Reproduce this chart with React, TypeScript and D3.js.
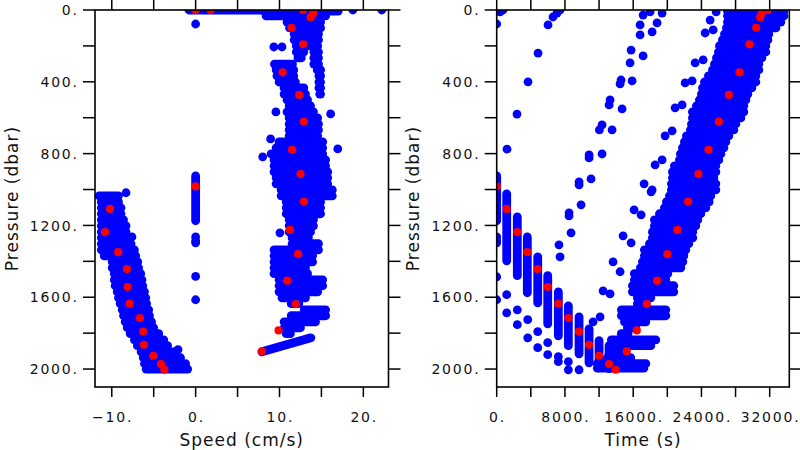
import React from 'react';
import * as d3 from 'd3';

// ---------- axis ticks ----------
const pressureTicks = [0, 200, 400, 600, 800, 1000, 1200, 1400, 1600, 1800, 2000];
const pressureLabels = [0, 400, 800, 1200, 1600, 2000];
const speedTicks = [-10, -5, 0, 5, 10, 15, 20];
const speedLabels = [-10, 0, 10, 20];
const timeTicks = [0, 4000, 8000, 12000, 16000, 20000, 24000, 28000, 32000];
const timeLabels = [0, 8000, 16000, 24000, 32000];

// ---------- speed panel (blue): dense runs of samples [pressure, speedFrom, speedTo] ----------
const speedRuns: number[][] = [
  [0, -0.8, 8.2],
  [6, 8.2, 17.0], [33, 8.4, 15.5], [67, 10.9, 14.9], [100, 11.2, 14.9],
  [134, 11.75, 14.65], [167, 11.75, 14.65], [200, 12.0, 14.55],
  [234, 12.0, 12.9], [234, 14.1, 14.65], [267, 12.2, 12.6], [267, 14.1, 14.65],
  [301, 9.4, 11.55], [301, 14.1, 14.65], [334, 9.6, 11.7], [334, 14.5, 14.9],
  [367, 9.7, 11.7], [367, 14.7, 14.9], [401, 9.95, 11.9], [401, 14.7, 14.9],
  [434, 10.55, 12.9], [434, 14.7, 14.9], [468, 10.55, 13.1], [468, 14.8, 14.9],
  [501, 10.9, 13.35], [534, 11.15, 13.7], [568, 10.9, 14.05], [601, 11.15, 14.55],
  [635, 11.15, 14.65], [668, 11.15, 14.65], [701, 11.15, 14.55], [735, 9.95, 15.15],
  [768, 9.6, 15.15], [802, 9.0, 15.15], [835, 9.35, 15.5], [868, 9.35, 15.5],
  [902, 9.35, 15.75], [935, 9.6, 15.75], [968, 9.6, 15.75], [1002, 10.2, 16.3],
  [1035, 10.2, 16.3], [1069, 10.8, 14.9], [1102, 10.8, 14.9], [1135, 10.8, 14.9],
  [1169, 11.15, 14.05], [1202, 11.15, 14.05], [1236, 11.15, 13.7], [1269, 11.5, 13.45],
  [1302, 11.5, 14.65], [1336, 9.35, 14.65], [1369, 9.35, 13.95], [1403, 9.35, 13.95],
  [1436, 9.35, 13.1], [1469, 9.35, 13.35], [1503, 9.95, 15.15], [1536, 9.95, 15.15],
  [1570, 9.95, 14.55], [1603, 10.3, 13.1], [1636, 11.4, 12.3], [1670, 12.95, 15.5],
  [1703, 11.4, 15.5], [1737, 10.55, 14.3], [1770, 10.55, 12.5], [1803, 10.8, 11.3],
  // descent branch
  [1035, -11.5, -9.2], [1069, -11.25, -9.2], [1102, -11.25, -8.9], [1135, -11.25, -8.9],
  [1169, -11.25, -8.6], [1202, -11.25, -8.3], [1236, -11.25, -8.3], [1269, -11.25, -7.95],
  [1302, -11.25, -7.7], [1336, -11.25, -7.3], [1369, -10.9, -7.15], [1403, -9.95, -6.9],
  [1436, -9.95, -6.8], [1469, -9.7, -6.55], [1503, -9.7, -6.4], [1536, -9.6, -6.3],
  [1570, -9.35, -6.1], [1603, -9.2, -5.95], [1636, -9.0, -5.85], [1670, -8.75, -5.6],
  [1703, -8.6, -5.5], [1737, -8.4, -5.25], [1770, -8.15, -5.0], [1803, -7.8, -4.4],
  [1837, -7.3, -3.8], [1870, -6.95, -3.35], [1904, -6.5, -2.4], [1937, -6.25, -1.8],
  [1970, -6.1, -1.2], [2000, -5.9, -0.95],
];
// slanted / vertical runs [speed1, pressure1, speed2, pressure2]
const speedSegs: number[][] = [
  [7.9, 1904, 13.74, 1826],
  [0, 924, 0, 1174],
];
// isolated samples [speed, pressure]
const speedDots: number[][] = [
  [0, 78], [0, 1264], [0, 1286], [0, 1297], [0, 1484], [0, 1614],
  [18.75, 0], [22.2, 0], [9.33, 206], [10.3, 206], [9.57, 568], [16.1, 579],
  [16.95, 774], [8.0, 818], [8.94, 718], [10.05, 1241], [-8.3, 1018], [-7.6, 1264], [-2.1, 1892],
];

// ---------- time panel (blue) ----------
const timeRuns: number[][] = [
  [6, 27050, 33665], [33, 27050, 33665], [67, 27050, 33310], [100, 26930, 32730],
  [134, 26700, 31900], [167, 26460, 31790], [200, 26110, 31550], [234, 25990, 31550],
  [267, 25760, 31085], [301, 25525, 30730], [334, 25290, 30730], [367, 24820, 30380],
  [401, 24350, 30380], [434, 24120, 29910], [468, 24000, 29440], [501, 23765, 29210],
  [534, 23415, 28970], [568, 22945, 28970], [601, 22945, 28620], [635, 22825, 28035],
  [668, 22710, 27800], [701, 22240, 27215], [735, 22005, 26860], [768, 21770, 26630],
  [802, 21535, 26275], [835, 21420, 26040], [868, 20830, 25690], [902, 20600, 25690],
  [935, 20600, 25455], [968, 20480, 25690], [1002, 20480, 25690], [1035, 20245, 25100],
  [1069, 19895, 24900], [1102, 19660, 24515], [1135, 19075, 23930], [1169, 18485, 23575],
  [1202, 18485, 23340], [1236, 18250, 22990], [1269, 18250, 22990], [1302, 17900, 22520],
  [1336, 17310, 22170], [1369, 17310, 21935], [1403, 17080, 21820], [1436, 16845, 21585],
  [1469, 16140, 20060], [1503, 16140, 19825], [1536, 15905, 20760], [1570, 15905, 20760],
  [1603, 16490, 18065], [1636, 16490, 17480], [1670, 14615, 19825], [1703, 14615, 19825],
  [1737, 14970, 17480], [1770, 15320, 16305], [1803, 14600, 15400], [1837, 13440, 18650],
  [1870, 13440, 18065], [1904, 13440, 14545], [1937, 12970, 15720], [1970, 11800, 17480],
  [1995, 11800, 17245],
];
// descent columns [time, pressureFrom, pressureTo]
const timeCols: number[][] = [
  [0, 924, 1174], [1173, 1024, 1397], [2416, 1152, 1480], [3589, 1264, 1575],
  [4809, 1375, 1631], [5982, 1480, 1748], [7226, 1570, 1815], [8399, 1648, 1870],
  [9654, 1709, 1915], [10827, 1776, 1965], [12000, 1842, 1993], [13173, 1870, 1998],
];
// isolated samples [time, pressure]
const timeDots: number[][] = [
  [0, 78], [0, 1264], [0, 1286], [0, 1297], [0, 1486], [0, 1614],
  [390, 11], [740, 0], [6020, 83], [6600, 39], [7070, 17], [7425, 0],
  [4845, 240], [3670, 400], [2380, 580], [1210, 775],
  [17160, 28], [17980, 11], [19390, 17], [16810, 83], [18800, 72], [16810, 139],
  [18220, 122], [15755, 223], [17160, 256], [15635, 295], [14580, 390], [14465, 412],
  [15870, 395], [13290, 501], [13175, 529], [14700, 551], [12350, 640], [12035, 668],
  [13525, 668], [12350, 802], [10830, 807], [10830, 824], [9655, 957], [9655, 974],
  [11060, 941], [8480, 1130], [8480, 1147], [9890, 1085], [8715, 1241], [7300, 1308],
  [7425, 1375], [13640, 1403], [14465, 1458], [14815, 1258], [15755, 1297],
  [12470, 1564], [13290, 1581], [12120, 1709], [11295, 1737], [16105, 1113],
  [16925, 1141], [17280, 968], [18100, 1013],
  [25020, 56], [24435, 128], [25375, 111], [25730, 11], [23260, 295], [24200, 278],
  [22090, 406], [22910, 395], [20915, 545], [21735, 529], [19740, 701], [20565, 673],
  [18570, 863], [19390, 835], [18220, 1002],
  [1173, 1586], [1173, 1687], [2416, 1670], [2416, 1753], [3636, 1725], [3636, 1826],
  [4809, 1792], [4809, 1881], [5982, 1853], [5982, 1920], [7226, 1931], [7226, 1959],
  [8399, 1959], [8399, 2004], [9654, 2004],
];

// ---------- red subsampled points ----------
const redTime = [0, 1173, 2416, 3589, 4809, 5982, 7226, 8399, 9654, 10827, 12000, 13173, 13959,
  15249, 16422, 17595, 18803, 20011, 21184, 22440, 23648, 24821, 26041, 27214, 28457,
  29630, 30417, 30886, 31085, 31472, 31600, 31800];
const redPressure = [983, 1108, 1237, 1349, 1443, 1543, 1636, 1716, 1791, 1865, 1926, 1972, 2004,
  1902, 1785, 1638, 1508, 1360, 1225, 1067, 914, 779, 622, 473, 347,
  191, 99, 41, 18, 0, 0, 0];
const redSpeed = [0, -10.21, -10.81, -9.23, -8.19, -8.10, -7.87, -6.64, -6.25, -6.16, -5.05, -4.14, -3.74,
  7.90, 9.89, 11.95, 10.92, 12.23, 11.24, 12.91, 12.51, 11.51, 12.91, 12.35, 10.37,
  12.82, 11.44, 13.71, 14.02, 12.82, 0, 1.79];

const BLUE = '#0000ff';
const RED = '#ff0000';
const R_BLUE = 4.4;
const R_RED = 4.1;
const FONT = "'DejaVu Sans', Verdana, sans-serif";
const TICK_Y = 12;
const TICK_X = 10;

const fmt = (v: number) => (v < 0 ? '\u2212' : '') + Math.abs(v) + '.';

const yScale = d3.scaleLinear().domain([0, 2100]).range([10, 387]);
const xSpeed = d3.scaleLinear().domain([-12, 23]).range([95, 388.5]);
const xTime = d3.scaleLinear().domain([0, 34300]).range([496.7, 789.3]);

function Panel(props: {
  x: d3.ScaleLinear<number, number>;
  xTicks: number[];
  xLabels: number[];
  xTitle: string;
  clipId: string;
  children: React.ReactNode;
}) {
  const { x, xTicks, xLabels, xTitle, clipId, children } = props;
  const y = yScale;
  const [x0, x1] = x.range();
  const [y0, y1] = y.range();
  const tickStyle = { fontFamily: FONT, letterSpacing: '1.8px' } as React.CSSProperties;
  const titleStyle = { fontFamily: FONT, letterSpacing: '1px' } as React.CSSProperties;
  return (
    <g>
      <clipPath id={clipId}>
        <rect x={x0} y={y0} width={x1 - x0} height={y1 - y0} />
      </clipPath>
      <g clipPath={`url(#${clipId})`}>{children}</g>
      <rect x={x0} y={y0} width={x1 - x0} height={y1 - y0} fill="none" stroke="#000" strokeWidth={1.6} />
      {xTicks.map((v) => (
        <g key={'xt' + v} stroke="#000" strokeWidth={1.5}>
          <line x1={x(v)} x2={x(v)} y1={y0} y2={y0 - TICK_X} />
          <line x1={x(v)} x2={x(v)} y1={y1} y2={y1 + TICK_X} />
        </g>
      ))}
      {pressureTicks.map((v) => (
        <g key={'yt' + v} stroke="#000" strokeWidth={1.5}>
          <line x1={x0} x2={x0 - TICK_Y} y1={y(v)} y2={y(v)} />
          <line x1={x1} x2={x1 + TICK_Y} y1={y(v)} y2={y(v)} />
        </g>
      ))}
      {xLabels.map((v) => (
        <text key={'xl' + v} x={x(v) + 0.9} y={421.7} fontSize={14} textAnchor="middle" fill="#111" style={tickStyle}>
          {fmt(v)}
        </text>
      ))}
      {pressureLabels.map((v) => (
        <text key={'yl' + v} x={x0 - 16.2} y={y(v) + 5.2} fontSize={14} textAnchor="end" fill="#111" style={tickStyle}>
          {fmt(v)}
        </text>
      ))}
      <text x={(x0 + x1) / 2} y={446} fontSize={17} textAnchor="middle" fill="#111" style={titleStyle}>
        {xTitle}
      </text>
      <text
        transform={`translate(${x0 - 77.5},${(y0 + y1) / 2}) rotate(-90)`}
        fontSize={17}
        textAnchor="middle"
        fill="#111"
        style={titleStyle}
      >
        Pressure (dbar)
      </text>
    </g>
  );
}

export default function App() {
  const y = yScale;
  const run = (key: string, x1: number, y1: number, x2: number, y2: number) => (
    <line key={key} x1={x1} y1={y1} x2={x2} y2={y2} stroke={BLUE} strokeWidth={R_BLUE * 2} strokeLinecap="round" />
  );
  return (
    <svg width={800} height={450} style={{ position: 'absolute', left: 0, top: 0, background: '#fff' }}>
      <rect width={800} height={450} fill="#fff" />
      <Panel x={xSpeed} xTicks={speedTicks} xLabels={speedLabels} xTitle="Speed (cm/s)" clipId="clipSpeed">
        {speedRuns.map(([p, a, b], i) => run('sr' + i, xSpeed(a), y(p), xSpeed(b), y(p)))}
        {speedSegs.map(([a, p1, b, p2], i) => run('ss' + i, xSpeed(a), y(p1), xSpeed(b), y(p2)))}
        {speedDots.map(([s, p], i) => (
          <circle key={'sd' + i} cx={xSpeed(s)} cy={y(p)} r={R_BLUE} fill={BLUE} />
        ))}
        {redSpeed.map((s, i) => (
          <circle key={'rs' + i} cx={xSpeed(s)} cy={y(redPressure[i])} r={R_RED} fill={RED} />
        ))}
      </Panel>
      <Panel x={xTime} xTicks={timeTicks} xLabels={timeLabels} xTitle="Time (s)" clipId="clipTime">
        {timeRuns.map(([p, a, b], i) => run('tr' + i, xTime(a), y(p), xTime(b), y(p)))}
        {timeCols.map(([t, p1, p2], i) => run('tc' + i, xTime(t), y(p1), xTime(t), y(p2)))}
        {timeDots.map(([t, p], i) => (
          <circle key={'td' + i} cx={xTime(t)} cy={y(p)} r={R_BLUE} fill={BLUE} />
        ))}
        {redTime.map((t, i) => (
          <circle key={'rt' + i} cx={xTime(t)} cy={y(redPressure[i])} r={R_RED} fill={RED} />
        ))}
      </Panel>
    </svg>
  );
}
